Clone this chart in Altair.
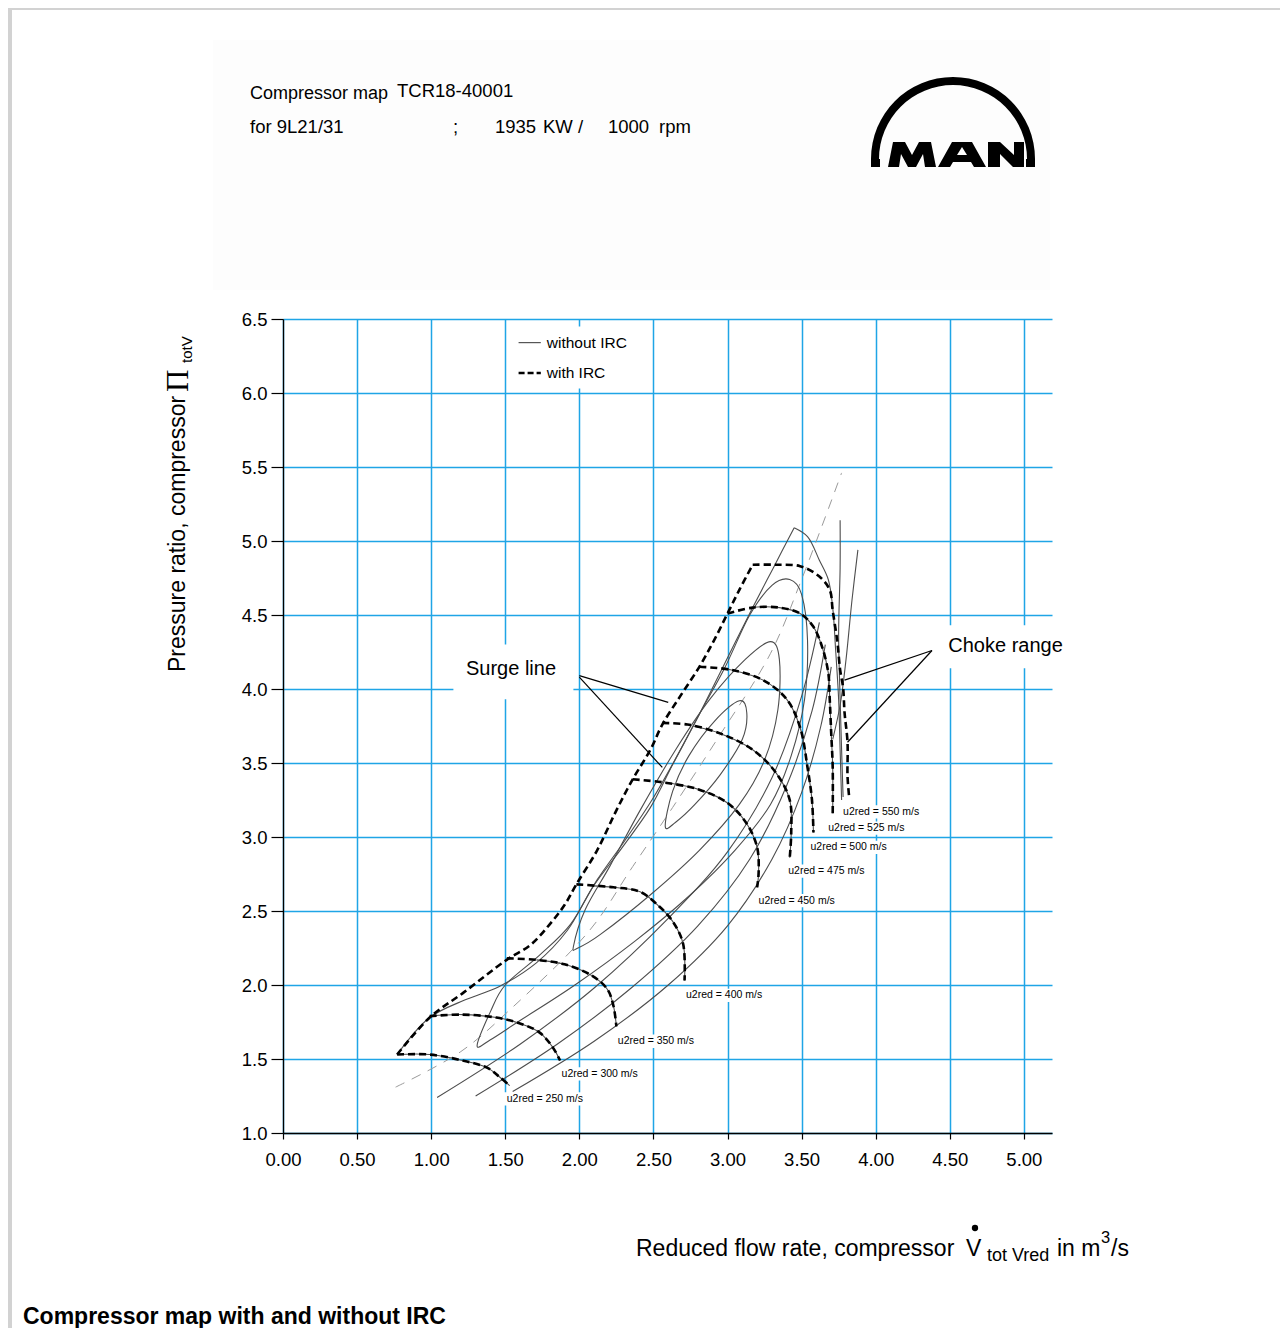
import altair as alt
import pandas as pd

# ---------------- data ----------------
X_TICKS = [0.0, 0.5, 1.0, 1.5, 2.0, 2.5, 3.0, 3.5, 4.0, 4.5, 5.0]
Y_TICKS = [1.0, 1.5, 2.0, 2.5, 3.0, 3.5, 4.0, 4.5, 5.0, 5.5, 6.0, 6.5]
SPEEDS = [250, 300, 350, 400, 450, 475, 500, 525, 550]

# speed lines with IRC (dashed)
IRC_X = {
    250: [0.77, 0.99, 1.21, 1.38, 1.46, 1.53],
    300: [0.99, 1.21, 1.44, 1.60, 1.73, 1.82, 1.87],
    350: [1.51, 1.71, 1.90, 2.09, 2.19, 2.23, 2.25],
    400: [1.98, 2.23, 2.41, 2.54, 2.63, 2.70, 2.71],
    450: [2.36, 2.56, 2.81, 3.00, 3.13, 3.20, 3.21, 3.20],
    475: [2.56, 2.73, 2.95, 3.17, 3.33, 3.42, 3.43, 3.42],
    500: [2.81, 3.02, 3.24, 3.40, 3.49, 3.54, 3.57, 3.58],
    525: [3.00, 3.17, 3.35, 3.49, 3.58, 3.64, 3.68, 3.69, 3.70, 3.71, 3.71],
    550: [3.17, 3.32, 3.49, 3.62, 3.69, 3.71, 3.74, 3.76, 3.78, 3.79, 3.81, 3.81, 3.82],
}
IRC_Y = {
    250: [1.53, 1.53, 1.49, 1.44, 1.38, 1.32],
    300: [1.79, 1.80, 1.78, 1.74, 1.68, 1.58, 1.49],
    350: [2.18, 2.17, 2.14, 2.06, 1.97, 1.86, 1.72],
    400: [2.68, 2.66, 2.63, 2.53, 2.43, 2.28, 2.03],
    450: [3.39, 3.37, 3.32, 3.23, 3.09, 2.93, 2.76, 2.66],
    475: [3.77, 3.76, 3.70, 3.59, 3.43, 3.25, 3.03, 2.86],
    500: [4.15, 4.13, 4.06, 3.93, 3.74, 3.47, 3.25, 3.03],
    525: [4.51, 4.55, 4.55, 4.51, 4.42, 4.28, 4.11, 3.93, 3.70, 3.47, 3.16],
    550: [4.84, 4.84, 4.83, 4.76, 4.67, 4.53, 4.33, 4.13, 4.01, 3.84, 3.64, 3.41, 3.28],
}
SURGE_IRC_X = [0.77, 0.99, 1.22, 1.51, 1.67, 1.80, 1.90, 1.98, 2.12, 2.25, 2.36, 2.48,
               2.56, 2.68, 2.81, 2.91, 3.00, 3.08, 3.17]
SURGE_IRC_Y = [1.53, 1.78, 1.95, 2.17, 2.27, 2.41, 2.54, 2.68, 2.91, 3.18, 3.39, 3.59,
               3.76, 3.95, 4.15, 4.33, 4.51, 4.67, 4.84]

# without IRC (solid)
SOLID_X = {
    250: [0.77, 0.99, 1.21, 1.38, 1.46, 1.53],
    300: [0.99, 1.21, 1.44, 1.60, 1.73, 1.82, 1.87],
    350: [1.71, 1.90, 2.09, 2.19, 2.23, 2.25],
    400: [2.09, 2.23, 2.41, 2.54, 2.63, 2.70, 2.71],
    450: [2.58, 2.81, 3.00, 3.13, 3.20, 3.21, 3.20],
    475: [2.77, 2.95, 3.17, 3.33, 3.42, 3.43, 3.42],
    500: [2.96, 3.02, 3.24, 3.40, 3.49, 3.54, 3.57, 3.58],
    525: [3.15, 3.17, 3.35, 3.49, 3.58, 3.64, 3.68, 3.69, 3.70, 3.71, 3.71],
    550: [3.45, 3.54, 3.62, 3.68, 3.71, 3.73, 3.75, 3.76, 3.77],
}
SOLID_Y = {
    250: [1.53, 1.53, 1.49, 1.44, 1.38, 1.32],
    300: [1.79, 1.80, 1.78, 1.74, 1.68, 1.58, 1.49],
    350: [2.17, 2.14, 2.06, 1.97, 1.86, 1.72],
    400: [2.67, 2.66, 2.63, 2.53, 2.43, 2.28, 2.03],
    450: [3.37, 3.32, 3.23, 3.09, 2.93, 2.76, 2.66],
    475: [3.75, 3.70, 3.59, 3.43, 3.25, 3.03, 2.86],
    500: [4.14, 4.13, 4.06, 3.93, 3.74, 3.47, 3.25, 3.03],
    525: [4.54, 4.55, 4.55, 4.51, 4.42, 4.28, 4.11, 3.93, 3.70, 3.47, 3.16],
    550: [5.09, 5.03, 4.87, 4.74, 4.55, 4.26, 3.93, 3.59, 3.25],
}
SURGE_X = [0.77, 0.99, 1.23, 1.46, 1.71, 1.92, 2.09, 2.29, 2.48, 2.63, 2.79, 2.95, 3.17, 3.31, 3.45]
SURGE_Y = [1.53, 1.78, 1.90, 1.99, 2.15, 2.37, 2.66, 2.93, 3.20, 3.49, 3.79, 4.11, 4.55, 4.82, 5.09]

CHOKE1_X = [3.76, 3.76, 3.75, 3.76, 3.78]
CHOKE1_Y = [5.14, 4.82, 4.37, 3.93, 3.27]
CHOKE2_X = [3.88, 3.84, 3.80, 3.76, 3.71]
CHOKE2_Y = [4.94, 4.60, 4.20, 3.89, 3.66]

# efficiency islands (closed)
ISL1_X = [2.58, 2.63, 2.74, 2.91, 3.08, 3.13, 3.10, 2.95, 2.78, 2.65]
ISL1_Y = [3.07, 3.31, 3.55, 3.78, 3.92, 3.84, 3.66, 3.42, 3.22, 3.10]
ISL2_X = [1.96, 2.04, 2.21, 2.41, 2.65, 2.88, 3.12, 3.29, 3.35, 3.34, 3.25, 3.08, 2.81, 2.48, 2.14, 1.99]
ISL2_Y = [2.26, 2.51, 2.81, 3.18, 3.59, 3.93, 4.20, 4.32, 4.20, 3.86, 3.52, 3.22, 2.91, 2.61, 2.34, 2.25]
ISL3_X = [1.31, 1.40, 1.50, 1.73, 1.94, 2.12, 2.31, 2.49, 2.65, 2.81, 2.98, 3.15, 3.30, 3.42,
          3.50, 3.54, 3.52, 3.43, 3.29, 3.05, 2.75, 2.38, 1.97, 1.60, 1.40]
ISL3_Y = [1.59, 1.82, 2.00, 2.20, 2.41, 2.71, 2.98, 3.25, 3.53, 3.83, 4.14, 4.50, 4.70, 4.74,
          4.64, 4.33, 3.93, 3.55, 3.22, 2.91, 2.61, 2.30, 2.00, 1.76, 1.63]

# open efficiency contours
OPEN_X = {
    1: [1.04, 1.60, 2.10, 2.60, 3.00, 3.30, 3.50, 3.62],
    2: [1.30, 1.85, 2.35, 2.80, 3.15, 3.40, 3.57, 3.66],
    3: [1.55, 2.10, 2.60, 3.00, 3.30, 3.50, 3.63, 3.70],
}
OPEN_Y = {
    1: [1.24, 1.60, 1.98, 2.45, 2.90, 3.40, 3.95, 4.45],
    2: [1.25, 1.60, 1.98, 2.40, 2.85, 3.35, 3.85, 4.30],
    3: [1.28, 1.62, 2.00, 2.40, 2.85, 3.30, 3.75, 4.15],
}

# operating line (grey dashed)
OP_X = [0.76, 1.20, 1.55, 2.07, 2.36, 2.63, 2.93, 3.29, 3.50, 3.77]
OP_Y = [1.31, 1.55, 1.85, 2.37, 2.80, 3.20, 3.66, 4.24, 4.74, 5.46]

# speed labels (left edge x, centre y)
LAB_X = [1.51, 1.88, 2.26, 2.72, 3.21, 3.41, 3.56, 3.68, 3.78]
LAB_Y = [1.23, 1.40, 1.62, 1.93, 2.57, 2.77, 2.93, 3.06, 3.17]

# ---------------- build tables ----------------
rows = []


def add(name, xs, ys, kind):
    for i, (a, b) in enumerate(zip(xs, ys)):
        rows.append({"curve": name, "i": i, "x": a, "y": b, "kind": kind})


for s in SPEEDS:
    add(f"irc{s}", IRC_X[s], IRC_Y[s], "irc")
    add(f"sol{s}", SOLID_X[s], SOLID_Y[s], "solid")
add("surge_irc", SURGE_IRC_X, SURGE_IRC_Y, "irc")
add("surge", SURGE_X, SURGE_Y, "solid")
add("choke1", CHOKE1_X, CHOKE1_Y, "solid")
add("choke2", CHOKE2_X, CHOKE2_Y, "solid")
for k in OPEN_X:
    add(f"open{k}", OPEN_X[k], OPEN_Y[k], "solid")
add("isl1", ISL1_X, ISL1_Y, "closed")
add("isl2", ISL2_X, ISL2_Y, "closed")
add("isl3", ISL3_X, ISL3_Y, "closed")
add("op", OP_X, OP_Y, "op")
curves = pd.DataFrame(rows)

labels = pd.DataFrame({"x": LAB_X, "y": LAB_Y,
                       "t": [f"u2red = {s} m/s" for s in SPEEDS]})
label_boxes = pd.DataFrame({"x": [a - 0.02 for a in LAB_X], "x2": [a + 0.54 for a in LAB_X],
                            "y": [b - 0.045 for b in LAB_Y], "y2": [b + 0.045 for b in LAB_Y]})
other_boxes = pd.DataFrame({"x": [1.15, 4.40, 1.53], "x2": [1.96, 5.30, 2.41],
                            "y": [3.93, 4.14, 6.03], "y2": [4.30, 4.43, 6.45]})
notes = pd.DataFrame({"x": [1.235, 4.49], "y": [4.135, 4.29], "t": ["Surge line", "Choke range"]})
pointers = pd.DataFrame({"x": [2.00, 2.00, 4.38, 4.38], "y": [4.09, 4.08, 4.26, 4.26],
                         "x2": [2.60, 2.56, 3.79, 3.81], "y2": [3.91, 3.47, 4.06, 3.64]})
legend_lines = pd.DataFrame({"x": [1.59, 1.59], "x2": [1.74, 1.74], "y": [6.34, 6.135],
                             "kind": ["solid", "irc"]})
legend_text = pd.DataFrame({"x": [1.78, 1.78], "y": [6.34, 6.135], "t": ["without IRC", "with IRC"]})

# ---------------- chart ----------------
FONT = "Liberation Sans"
BLUE = "#1fa5e6"
xs = alt.Scale(domain=[0, 5.19], nice=False, zero=False)
ys = alt.Scale(domain=[1, 6.5], nice=False, zero=False)
xaxis = alt.Axis(values=X_TICKS, format=".2f", title=None, grid=True, gridColor=BLUE,
                 gridWidth=1.5, gridOpacity=1, domainColor="black", domainWidth=1.3,
                 tickColor="black", tickSize=6, tickWidth=1.2, labelFont=FONT,
                 labelFontSize=18.5, labelColor="black", labelPadding=11, labelFlush=False,
                 labelOverlap=False)
yaxis = alt.Axis(values=Y_TICKS, format=".1f", title=None, grid=True, gridColor=BLUE,
                 gridWidth=1.5, gridOpacity=1, domainColor="black", domainWidth=1.3,
                 tickColor="black", tickSize=12, tickWidth=1.2, labelFont=FONT,
                 labelFontSize=18.5, labelColor="black", labelPadding=4, labelOverlap=False)
X = alt.X("x:Q", scale=xs, axis=xaxis)
Y = alt.Y("y:Q", scale=ys, axis=yaxis)

layers = []
layers.append(alt.Chart(label_boxes).mark_rect(color="white").encode(x=X, x2="x2:Q", y=Y, y2="y2:Q"))
layers.append(alt.Chart(other_boxes).mark_rect(color="white").encode(x=X, x2="x2:Q", y=Y, y2="y2:Q"))

base = alt.Chart(curves)
layers.append(base.transform_filter(alt.datum.kind == "op").mark_line(
    color="#9a9a9a", strokeWidth=1, strokeDash=[10, 8], interpolate="catmull-rom"
).encode(x=X, y=Y, detail="curve:N", order="i:Q"))
layers.append(base.transform_filter(alt.datum.kind == "solid").mark_line(
    color="#4d4d4d", strokeWidth=1.1, interpolate="catmull-rom"
).encode(x=X, y=Y, detail="curve:N", order="i:Q"))
layers.append(base.transform_filter(alt.datum.kind == "closed").mark_line(
    color="#4d4d4d", strokeWidth=1.1, interpolate="cardinal-closed"
).encode(x=X, y=Y, detail="curve:N", order="i:Q"))
layers.append(base.transform_filter(alt.datum.kind == "irc").mark_line(
    color="black", strokeWidth=2.6, strokeDash=[7, 4], interpolate="catmull-rom"
).encode(x=X, y=Y, detail="curve:N", order="i:Q"))

layers.append(alt.Chart(pointers).mark_rule(color="black", strokeWidth=1.2).encode(
    x=X, y=Y, x2="x2:Q", y2="y2:Q"))
layers.append(alt.Chart(legend_lines).transform_filter(alt.datum.kind == "solid").mark_rule(
    color="#333", strokeWidth=1).encode(x=X, y=Y, x2="x2:Q"))
layers.append(alt.Chart(legend_lines).transform_filter(alt.datum.kind == "irc").mark_rule(
    color="black", strokeWidth=2.6, strokeDash=[6, 3]).encode(x=X, y=Y, x2="x2:Q"))
layers.append(alt.Chart(legend_text).mark_text(align="left", baseline="middle", font=FONT,
                                               fontSize=15.5, color="black").encode(x=X, y=Y, text="t:N"))
layers.append(alt.Chart(labels).mark_text(align="left", baseline="middle", font=FONT,
                                          fontSize=10.5, color="black").encode(x=X, y=Y, text="t:N"))
layers.append(alt.Chart(notes).mark_text(align="left", baseline="middle", font=FONT,
                                         fontSize=20, color="black").encode(x=X, y=Y, text="t:N"))

one = pd.DataFrame({"a": [0]})


def txt(s, vx, vy, size, **kw):
    opts = dict(align="left", baseline="alphabetic", font=FONT, fontSize=size, color="black")
    opts.update(kw)
    return alt.Chart(one).mark_text(**opts).encode(x=alt.value(vx), y=alt.value(vy), text=alt.value(s))


def box(vx, vy, vx2, vy2, color):
    return alt.Chart(one).mark_rect(color=color).encode(
        x=alt.value(vx), y=alt.value(vy), x2=alt.value(vx2), y2=alt.value(vy2))


# frame and header panel
layers.append(box(-275, -311, -271, 1009, "#d2d2d2"))
layers.append(box(-275, -311, 997, -309, "#d2d2d2"))
layers.append(box(-70, -279, 767, -29, "#fdfdfd"))

# header text
layers.append(txt("Compressor map", -33, -220, 18))
layers.append(txt("TCR18-40001", 114, -222, 18.5))
layers.append(txt("for 9L21/31", -33, -186, 18.5))
layers.append(txt(";", 170, -186, 18.5))
layers.append(txt("1935", 212, -186, 18.5))
layers.append(txt("KW /", 260, -186, 18.5))
layers.append(txt("1000", 325, -186, 18.5))
layers.append(txt("rpm", 376, -186, 18.5))

# MAN logo
layers.append(alt.Chart(one).mark_arc(theta=4.712389, theta2=7.853982, innerRadius=74,
                                      outerRadius=82, color="black").encode(
    x=alt.value(670), y=alt.value(-160)))
LOGO = ("M0,0L9,0L9,8L0,8Z M155,0L164,0L164,8L155,8Z "
        "M17,8L22,-17L34,-17L41,-4L48,-17L60,-17L65,8L54,8L52,-5L45,8L37,8L30,-5L28,8Z "
        "M67,8L81,-17L101,-17L115,8L103,8L100,3L82,3L79,8Z M86,-4L96,-4L91,-12Z "
        "M117,8L117,-17L129,-17L143,-4L143,-17L153,-17L153,8L142,8L129,-5L129,8Z")
layers.append(alt.Chart(one).mark_point(shape=LOGO, size=4, filled=True, color="black",
                                        opacity=1, strokeWidth=0).encode(
    x=alt.value(588), y=alt.value(-160)))

# axis titles
layers.append(txt("Pressure ratio, compressor", -98, 353, 23, angle=270))
layers.append(txt("\u03a0", -95, 73, 31, angle=270, font="Liberation Serif"))
layers.append(txt("totV", -91, 44, 15, angle=270))
layers.append(txt("Reduced flow rate, compressor", 353, 937, 23))
layers.append(txt("V", 683, 937, 23))
layers.append(alt.Chart(one).mark_point(shape="circle", size=40, filled=True, color="black",
                                        opacity=1).encode(x=alt.value(692), y=alt.value(909)))
layers.append(txt("tot Vred", 704, 942, 18))
layers.append(txt("in m", 774, 937, 23))
layers.append(txt("3", 818, 924, 16.5))
layers.append(txt("/s", 828, 937, 23))

# caption
layers.append(txt("Compressor map with and without IRC", -260, 1005, 23, fontWeight="bold"))

chart = alt.layer(*layers).properties(
    width=769, height=814,
    autosize=alt.AutoSizeParams(type="none"),
    padding={"left": 275, "top": 311, "right": 228, "bottom": 195},
    background="white",
).configure_view(strokeWidth=0)

chart.save("out.html", embed_options={"renderer": "svg", "actions": False})
